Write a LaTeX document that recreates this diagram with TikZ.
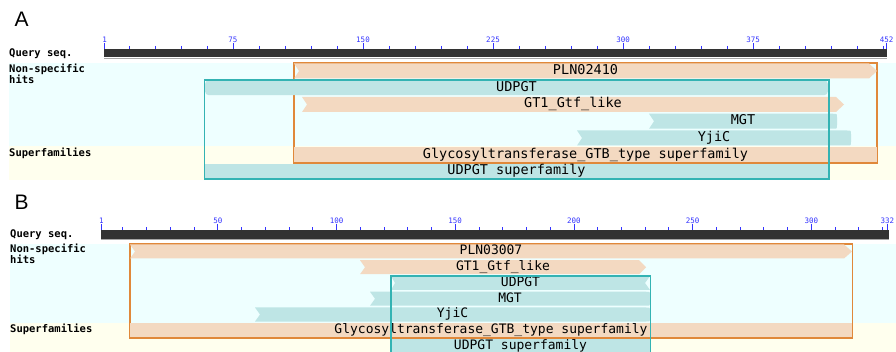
\documentclass[tikz,border=0pt]{standalone}
\usepackage{fontspec}
\newfontfamily\hitfont{DejaVu Sans Mono}
\newfontfamily\panelfont{Liberation Sans}
\definecolor{peachc}{HTML}{F3D9C1}
\definecolor{tealc}{HTML}{BEE5E5}
\definecolor{cyanbgc}{HTML}{EEFFFF}
\definecolor{yellowbgc}{HTML}{FFFFEE}
\definecolor{orangec}{HTML}{E0883A}
\definecolor{tealboxc}{HTML}{33B3B3}
\definecolor{rulerc}{HTML}{333333}
\definecolor{tickc}{HTML}{3333FF}

\begin{document}
\begin{tikzpicture}[x=1pt,y=-1pt,
  pbar/.style={fill=peachc},
  tbar/.style={fill=tealc},
  obox/.style={draw=orangec,line width=1.2pt},
  tbox/.style={draw=tealboxc,line width=1.2pt},
  tickmin/.style={draw=tickc,line width=.8pt},
  rulnum/.style={font=\hitfont\fontsize{7.5}{7.5}\selectfont,text=tickc,anchor=base,inner sep=0pt},
  sidelab/.style={font=\hitfont\bfseries\fontsize{10.5}{10.5}\selectfont,anchor=base west,inner sep=0pt},
  hitlabA/.style={font=\hitfont\fontsize{13.5}{13.5}\selectfont,anchor=base,inner sep=0pt},
  hitlabB/.style={font=\hitfont\fontsize{13}{13}\selectfont,anchor=base,inner sep=0pt},
  panel/.style={font=\panelfont\fontsize{21}{21}\selectfont,anchor=base west,inner sep=0pt}]
\useasboundingbox (0,0) rectangle (896,352);
\clip (0,0) rectangle (896,352);

% panel A
\node[panel] (panA) at (14.5,27) {A};
\fill[rulerc] (104,49.3) rectangle (887,57.3);
\draw[gray!70] (104,57.8) -- (887,57.8);
\foreach \r in {15,30,...,450}
  \draw[tickmin] ({104.7+(\r-1)*1.7335},46) -- ++(0,3.3);
\foreach \r in {1,75,150,225,300,375,452} {
  \draw[tickmin] ({104.7+(\r-1)*1.7335},43.3) -- ++(0,6);
  \node[rulnum] (numA\r) at ({104.7+(\r-1)*1.7335},42.3) {\r};
}
\fill[cyanbgc] (9.3,63) rectangle (896,146.3);
\fill[yellowbgc] (9.3,146.3) rectangle (896,180);
\node[sidelab] (qryA) at (9,57) {Query seq.};
\node[sidelab] (nsA) at (9,72.7) {Non-specific};
\node[sidelab] (hitsA) at (9,84) {hits};
\node[sidelab] (supA) at (9,156.7) {Superfamilies};

\draw[obox] (294,63) rectangle (877,163);
\fill[pbar] (294,63.5) -- (869,63.5) -- (877,71) -- (869,78.5) -- (294,78.5) -- (299,71) -- cycle;
\node[hitlabA] (plnA) at (585.5,74.5) {PLN02410};
\fill[tbar,rounded corners=4pt] (205,80.25) rectangle (828,95.25);
\node[hitlabA] (udpA) at (516.5,91.2) {UDPGT};
\fill[pbar] (302,97) -- (836,97) -- (844,104.5) -- (836,112) -- (302,112) -- (307,104.5) -- cycle;
\node[hitlabA] (gtfA) at (573,108) {GT1\_Gtf\_like};
\fill[tbar] (649,113.75) -- (833,113.75) .. controls (837,113.75) .. (837,117.75) -- (837,124.75)
  .. controls (837,128.75) .. (833,128.75) -- (649,128.75) -- (654,121.25) -- cycle;
\node[hitlabA] (mgtA) at (743,124.7) {MGT};
\fill[tbar] (577,130.5) -- (847,130.5) .. controls (851,130.5) .. (851,134.5) -- (851,141.5)
  .. controls (851,145.5) .. (847,145.5) -- (577,145.5) -- (582,138) -- cycle;
\node[hitlabA] (yjicA) at (714,141.5) {YjiC};
\fill[pbar] (294,147.25) rectangle (877,162.25);
\node[hitlabA] (gtbA) at (585.5,158.2) {Glycosyltransferase\_GTB\_type superfamily};
\fill[tbar] (205,164) rectangle (828,179);
\node[hitlabA] (udpsfA) at (516.5,175) {UDPGT superfamily};
\draw[tbox] (204.5,80) rectangle (829,179);

% panel B
\node[panel] (panB) at (14.5,209.5) {B};
\fill[rulerc] (101,230) rectangle (889,238.7);
\draw[gray!70] (101,239.2) -- (889,239.2);
\foreach \r in {10,20,...,330}
  \draw[tickmin] ({101.5+(\r-1)*2.374},227.3) -- ++(0,2.7);
\foreach \r in {1,50,100,150,200,250,300,332} {
  \draw[tickmin] ({101.5+(\r-1)*2.374},224) -- ++(0,6);
  \node[rulnum] (numB\r) at ({101.5+(\r-1)*2.374},223.2) {\r};
}
\fill[cyanbgc] (10,244) rectangle (896,322.7);
\fill[yellowbgc] (10,322.7) rectangle (896,352);
\node[sidelab] (qryB) at (10,238) {Query seq.};
\node[sidelab] (nsB) at (10,252.7) {Non-specific};
\node[sidelab] (hitsB) at (10,263.3) {hits};
\node[sidelab] (supB) at (10,332.7) {Superfamilies};

\draw[obox] (130,244) rectangle (852.5,338);
\fill[pbar] (130,244.5) -- (844,244.5) -- (852,251.5) -- (844,258.5) -- (130,258.5) -- (135,251.5) -- cycle;
\node[hitlabB] (plnB) at (491,254.7) {PLN03007};
\fill[pbar] (360,260.25) -- (639,260.25) -- (646,267.25) -- (639,274.25) -- (360,274.25) -- (365,267.25) -- cycle;
\node[hitlabB] (gtfB) at (503,270.5) {GT1\_Gtf\_like};
\fill[tbar] (391,276) -- (650,276) -- (645,283) -- (650,290) -- (391,290) -- (395,283) -- cycle;
\node[hitlabB] (udpB) at (520.5,286.3) {UDPGT};
\fill[tbar] (370,291.75) -- (646,291.75) .. controls (650,291.75) .. (650,295.75) -- (650,301.75)
  .. controls (650,305.75) .. (646,305.75) -- (370,305.75) -- (375,298.75) -- cycle;
\node[hitlabB] (mgtB) at (510,302) {MGT};
\fill[tbar] (255,307.5) -- (646,307.5) .. controls (650,307.5) .. (650,311.5) -- (650,317.5)
  .. controls (650,321.5) .. (646,321.5) -- (255,321.5) -- (260,314.5) -- cycle;
\node[hitlabB] (yjicB) at (452.5,317.8) {YjiC};
\fill[pbar] (130,323.25) rectangle (852,337.25);
\node[hitlabB] (gtbB) at (491,333.5) {Glycosyltransferase\_GTB\_type superfamily};
\fill[tbar] (391,339) rectangle (650,353);
\node[hitlabB] (udpsfB) at (520.5,349.3) {UDPGT superfamily};
\draw[tbox] (391,276) rectangle (650.7,356);
\end{tikzpicture}
\end{document}
